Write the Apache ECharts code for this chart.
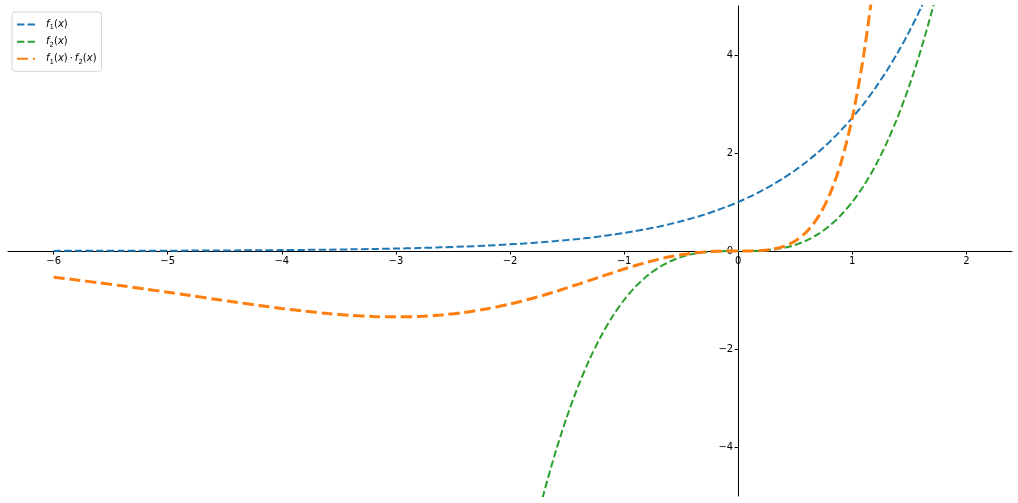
<!DOCTYPE html>
<html>
<head>
<meta charset="utf-8">
<script src="https://cdn.jsdelivr.net/npm/echarts@6/dist/echarts.min.js"></script>
<style>html,body{margin:0;padding:0;background:#fff}#c{width:1018px;height:503px}</style>
</head>
<body>
<div id="c"></div>
<script>
// x samples
var xValues = [-6, -5.8, -5.6, -5.4, -5.2, -5, -4.8, -4.6, -4.4, -4.2, -4, -3.8, -3.6, -3.4, -3.2, -3, -2.8, -2.6, -2.4, -2.2, -2,
  -1.9, -1.8, -1.7, -1.6, -1.5, -1.4, -1.3, -1.2, -1.1, -1, -0.9, -0.8, -0.7, -0.6, -0.5, -0.4, -0.3, -0.2, -0.1, 0,
  0.1, 0.2, 0.3, 0.4, 0.5, 0.6, 0.7, 0.8, 0.9, 1, 1.1, 1.2, 1.3, 1.4, 1.5, 1.6, 1.7, 1.8, 1.9, 2];
// f1(x) values (blue)
var f1Values = [0.0025, 0.0030, 0.0037, 0.0045, 0.0055, 0.0067, 0.0082, 0.0101, 0.0123, 0.0150, 0.0183, 0.0224, 0.0273, 0.0334, 0.0408, 0.0498, 0.0608, 0.0743, 0.0907, 0.1108, 0.1353,
  0.1496, 0.1653, 0.1827, 0.2019, 0.2231, 0.2466, 0.2725, 0.3012, 0.3329, 0.3679, 0.4066, 0.4493, 0.4966, 0.5488, 0.6065, 0.6703, 0.7408, 0.8187, 0.9048, 1,
  1.1052, 1.2214, 1.3499, 1.4918, 1.6487, 1.8221, 2.0138, 2.2255, 2.4596, 2.7183, 3.0042, 3.3201, 3.6693, 4.0552, 4.4817, 4.9530, 5.4739, null, null, null];
// f2(x) values (green)
var f2Values = [null, null, null, null, null, null, null, null, null, null, null, null, null, null, null, null, null, null, null, null, -8,
  -6.859, -5.832, -4.913, -4.096, -3.375, -2.744, -2.197, -1.728, -1.331, -1, -0.729, -0.512, -0.343, -0.216, -0.125, -0.064, -0.027, -0.008, -0.001, 0,
  0.001, 0.008, 0.027, 0.064, 0.125, 0.216, 0.343, 0.512, 0.729, 1, 1.331, 1.728, 2.197, 2.744, 3.375, 4.096, 4.913, 5.832, null, null];
// f1(x)*f2(x) values (orange)
var prodValues = [-0.5354, -0.5907, -0.6494, -0.7112, -0.7757, -0.8422, -0.9101, -0.9784, -1.0458, -1.1110, -1.1722, -1.2275, -1.2748, -1.3117, -1.3357, -1.3443, -1.3349, -1.3055, -1.2541, -1.1798, -1.0827,
  -1.0262, -0.9640, -0.8975, -0.8270, -0.7531, -0.6767, -0.5988, -0.5205, -0.4430, -0.3679, -0.2964, -0.2301, -0.1703, -0.1185, -0.0758, -0.0429, -0.0200, -0.0066, -0.0009, 0,
  0.0011, 0.0098, 0.0364, 0.0955, 0.2061, 0.3936, 0.6907, 1.1395, 1.7930, 2.7183, 3.9986, 5.7372, 8.0615, null, null, null, null, null, null, null];
var xTicks = [-6, -5, -4, -3, -2, -1, 0, 1, 2];
var yTicks = [-4, -2, 0, 2, 4];

var X_MIN = -6.4, X_MAX = 2.4, Y_MIN = -5, Y_MAX = 5;

function pairs(ys) { return xValues.map(function (x, i) { return [x, ys[i]]; }); }
function fmt(v) { return String(v).replace('-', '\u2212'); }

var W = 1018, H = 503;
var G = { left: 8, right: 6, top: 6, bottom: 7 };
var gw = W - G.left - G.right, gh = H - G.top - G.bottom;
// offsets so the axes sit on the zero lines (spines at data zero)
var xAxisOffset = -gh * (0 - Y_MIN) / (Y_MAX - Y_MIN);
var yAxisOffset = -gw * (0 - X_MIN) / (X_MAX - X_MIN);

var chart = echarts.init(document.getElementById('c'), null, { renderer: 'canvas' });
var font = 'DejaVu Sans';
var labels = {
  f1: '{i|f}{s|1}{n|(}{i|x}{n|)}',
  f2: '{i|f}{s|2}{n|(}{i|x}{n|)}',
  prod: '{i|f}{s|1}{n|(}{i|x}{n|)\u2009·\u2009}{i|f}{s|2}{n|(}{i|x}{n|)}'
};
chart.setOption({
  animation: false,
  backgroundColor: '#ffffff',
  grid: { left: G.left, right: G.right, top: G.top, bottom: G.bottom, containLabel: false, outerBoundsMode: 'none' },
  legend: {
    orient: 'vertical', left: 12, top: 12,
    padding: [7, 5, 6, 4],
    itemWidth: 18, itemHeight: 14, itemGap: 5,
    itemStyle: { opacity: 0 },
    backgroundColor: '#ffffff', borderColor: '#d5d5d5', borderWidth: 1, borderRadius: 3,
    data: ['f1', 'f2', 'prod'],
    formatter: function (n) { return labels[n]; },
    textStyle: {
      fontFamily: font, fontSize: 10, color: '#000', padding: [0, 0, 0, 6],
      rich: {
        i: { fontFamily: font, fontStyle: 'italic', fontSize: 10, color: '#000' },
        n: { fontFamily: font, fontSize: 10, color: '#000' },
        s: { fontFamily: font, fontSize: 7, color: '#000', padding: [6, 0, 0, 0] }
      }
    }
  },
  xAxis: {
    type: 'value', min: X_MIN, max: X_MAX, position: 'bottom', offset: xAxisOffset,
    axisLine: { onZero: false, lineStyle: { color: '#000', width: 1 } },
    axisTick: { show: true, length: 3.5, inside: false, customValues: xTicks, lineStyle: { color: '#000' } },
    axisLabel: { customValues: xTicks, formatter: fmt, color: '#000', fontFamily: font, fontSize: 10, margin: 5, hideOverlap: false },
    splitLine: { show: false }
  },
  yAxis: {
    type: 'value', min: Y_MIN, max: Y_MAX, position: 'left', offset: yAxisOffset,
    axisLine: { show: true, onZero: false, lineStyle: { color: '#000', width: 1 } },
    axisTick: { show: true, length: 3.5, inside: false, customValues: yTicks, lineStyle: { color: '#000' } },
    axisLabel: { customValues: yTicks, formatter: fmt, color: '#000', fontFamily: font, fontSize: 10, margin: 5, hideOverlap: false },
    splitLine: { show: false }
  },
  series: [
    { name: 'f1', type: 'line', data: pairs(f1Values), symbol: 'none', smooth: 0.3, clip: true,
      color: '#1f77b4', lineStyle: { color: '#1f77b4', width: 2, type: [7.4, 3.2] } },
    { name: 'f2', type: 'line', data: pairs(f2Values), symbol: 'none', smooth: 0.3, clip: true,
      color: '#2ca02c', lineStyle: { color: '#2ca02c', width: 2, type: [7.4, 3.2] } },
    { name: 'prod', type: 'line', data: pairs(prodValues), symbol: 'none', smooth: 0.3, clip: true,
      color: '#ff7f0e', lineStyle: { color: '#ff7f0e', width: 3, type: [11.1, 4.8] } }
  ]
});
</script>
</body>
</html>
